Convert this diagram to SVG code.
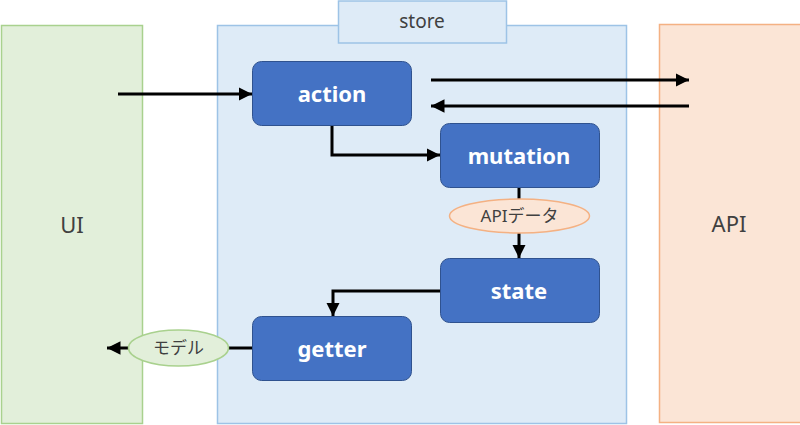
<svg xmlns="http://www.w3.org/2000/svg" width="800" height="425" viewBox="0 0 800 425">
<style>
.node rect{fill:#4472C4;stroke:#2F528F;stroke-width:1}
.node text{font-family:"Noto Sans","Noto Sans CJK JP",sans-serif;font-size:22px;font-weight:bold;fill:#fff;text-anchor:middle;dominant-baseline:central}
.lbl{font-family:"Noto Sans","Noto Sans CJK JP",sans-serif;fill:#404040;text-anchor:middle;dominant-baseline:central}
.conn path{fill:none;stroke:#000;stroke-width:3}
</style>
<defs>
<marker id="ah" viewBox="0 0 10 10" refX="10" refY="5" markerWidth="4.5" markerHeight="4.5" orient="auto" markerUnits="strokeWidth">
<path d="M0,0 L10,5 L0,10 z" fill="#000"/>
</marker>
</defs>
<g id="ui">
<rect x="1.5" y="25.5" width="141" height="398" fill="#E2EFDA" stroke="#A9D18E" stroke-width="1.5"/>
<text class="lbl" x="72" y="224" font-size="22">UI</text>
</g>
<g id="store">
<rect x="217.5" y="25.5" width="409" height="398" fill="#DEEBF7" stroke="#9DC3E6" stroke-width="1.5"/>
<rect x="338.5" y="1" width="168" height="42" fill="#DEEBF7" stroke="#9DC3E6" stroke-width="1.5"/>
<text class="lbl" x="422" y="21" font-size="19">store</text>
</g>
<g id="api">
<rect x="659.5" y="24.5" width="142" height="398" fill="#FBE5D6" stroke="#F4B183" stroke-width="1.5"/>
<text class="lbl" x="729" y="223" font-size="22">API</text>
</g>
<g id="action" class="node"><rect x="252.5" y="61.5" width="159" height="64" rx="9"/><text x="332" y="93">action</text></g>
<g id="mutation" class="node"><rect x="440.5" y="123.5" width="159" height="64" rx="9"/><text x="519" y="155">mutation</text></g>
<g id="state" class="node"><rect x="440.5" y="258.5" width="159" height="64" rx="9"/><text x="519" y="290">state</text></g>
<g id="getter" class="node"><rect x="252.5" y="316.5" width="159" height="64" rx="9"/><text x="332" y="348">getter</text></g>
<g id="connectors" class="conn">
<path d="M118,94 H252" marker-end="url(#ah)"/>
<path d="M431,80 H689" marker-end="url(#ah)"/>
<path d="M689,106 H431" marker-end="url(#ah)"/>
<path d="M332,126 V155 H440" marker-end="url(#ah)"/>
<path d="M519,188 V200"/>
<path d="M519,233 V258" marker-end="url(#ah)"/>
<path d="M440,291 H333 V316" marker-end="url(#ah)"/>
<path d="M252,348 H228"/>
<path d="M129,348 H107" marker-end="url(#ah)"/>
</g>
<g id="apidata">
<ellipse cx="519.5" cy="216" rx="70" ry="17" fill="#FBE5D6" stroke="#F4B183" stroke-width="1.5"/>
<text class="lbl" x="519.5" y="215" font-size="17">APIデータ</text>
</g>
<g id="model">
<ellipse cx="178.5" cy="348" rx="50" ry="18" fill="#E2EFDA" stroke="#A9D18E" stroke-width="1.5"/>
<text class="lbl" x="178.5" y="347" font-size="17">モデル</text>
</g>
</svg>
